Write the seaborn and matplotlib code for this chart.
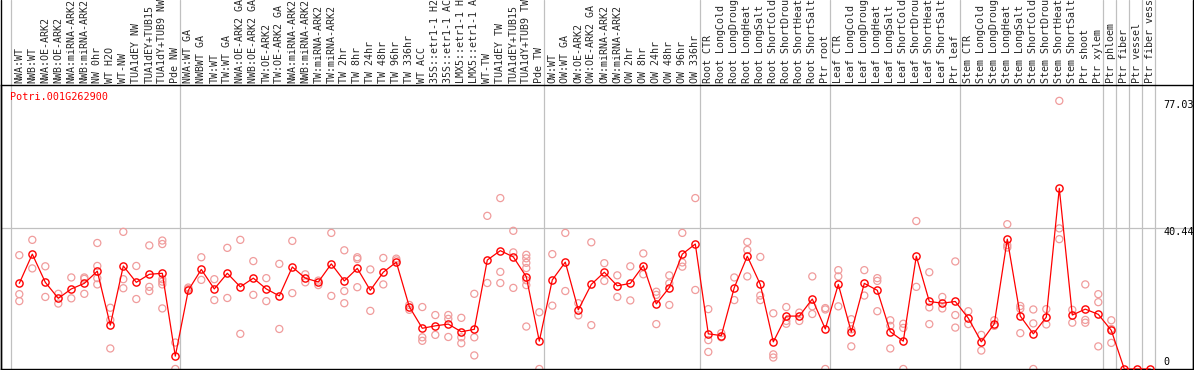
import matplotlib
matplotlib.use('Agg')
import matplotlib.pyplot as plt
from matplotlib.transforms import blended_transform_factory, offset_copy
import seaborn as sns
import pandas as pd

gene = 'Potri.001G262900'

samples = [
    'NWA:WT', 'NWB:WT', 'NWA:OE-ARK2', 'NWB:OE-ARK2', 'NWA:miRNA-ARK2', 'NWB:miRNA-ARK2',
    'NW 0hr', 'WT H2O', 'WT-NW', 'TUA1dEY NW', 'TUA1dEY+TUB15', 'TUA1dY+TUB9 NW', 'Pde NW',
    'NWA:WT GA', 'NWBWT GA', 'TW:WT', 'TW:WT GA', 'NWA:OE-ARK2 GA', 'NWB:OE-ARK2 GA',
    'TW:OE-ARK2', 'TW:OE-ARK2 GA', 'NWA:miRNA-ARK2', 'NWB:miRNA-ARK2', 'TW:miRNA-ARK2',
    'TW:miRNA-ARK2', 'TW 2hr', 'TW 8hr', 'TW 24hr', 'TW 48hr', 'TW 96hr', 'TW 336hr',
    'WT ACC', '35S::etr1-1 H2O', '35S::etr1-1 ACC', 'LMX5::etr1-1 H2O', 'LMX5::etr1-1 ACC',
    'WT-TW', 'TUA1dEY TW', 'TUA1dEY+TUB15', 'TUA1dY+TUB9 TW', 'Pde TW',
    'OW:WT', 'OW:WT GA', 'OW:OE-ARK2', 'OW:OE-ARK2 GA', 'OW:miRNA-ARK2', 'OW:miRNA-ARK2',
    'OW 2hr', 'OW 8hr', 'OW 24hr', 'OW 48hr', 'OW 96hr', 'OW 336hr',
    'Root CTR', 'Root LongCold', 'Root LongDrought', 'Root LongHeat', 'Root LongSalt',
    'Root ShortCold', 'Root ShortDrought', 'Root ShortHeat', 'Root ShortSalt', 'Ptr root',
    'Leaf CTR', 'Leaf LongCold', 'Leaf LongDrought', 'Leaf LongHeat', 'Leaf LongSalt',
    'Leaf ShortCold', 'Leaf ShortDrought', 'Leaf ShortHeat', 'Leaf ShortSalt', 'Ptr leaf',
    'Stem CTR', 'Stem LongCold', 'Stem LongDrought', 'Stem LongHeat', 'Stem LongSalt',
    'Stem ShortCold', 'Stem ShortDrought', 'Stem ShortHeat', 'Stem ShortSalt', 'Ptr shoot',
    'Ptr xylem', 'Ptr phloem', 'Ptr fiber', 'Ptr vessel', 'Ptr fiber vessel',
]

means = [
    24.6, 33.0, 24.9, 20.3, 23.0, 24.6, 28.1, 12.6, 29.6, 24.9, 27.2, 27.5, 3.7,
    22.6, 28.6, 23.0, 27.5, 23.6, 26.1, 23.0, 21.0, 29.3, 26.1, 25.0, 30.2, 25.3, 28.9,
    22.6, 27.8, 30.7, 17.9, 11.7, 12.4, 12.9, 10.7, 11.4, 31.3, 34.0, 32.2, 26.5, 8.0,
    25.6, 30.7, 17.0, 24.3, 27.8, 23.9, 24.6, 29.7, 18.7, 23.4, 33.0, 35.9,
    10.1, 9.6, 23.4, 32.4, 24.3, 7.8, 15.2, 15.2, 20.1, 11.5,
    24.3, 10.6, 24.6, 22.6, 10.7, 8.0, 32.4, 19.4, 18.9, 19.4,
    14.6, 7.8, 13.0, 37.3, 15.2, 10.1, 14.9, 51.9, 15.5, 17.2, 15.7,
    11.1, 0.0, 0.0, 0.0,
]

replicates = [
    [32.7, 21.5, 19.5], [37.1, 28.9], [29.5, 20.7], [21.6, 18.8], [26.3, 20.3],
    [26.3, 25.9, 21.6], [36.2, 29.6, 26.1, 24.3], [17.6, 14.1, 5.9], [39.4, 25.8, 23.2],
    [29.6, 20.1], [35.5, 23.6, 22.4], [36.9, 35.9, 25.8, 25.1, 24.3, 17.4], [7.6, 0.0],
    [23.4, 23.0], [32.1, 25.6], [25.8, 19.8], [34.8, 20.4], [37.1, 10.1], [31.0, 21.3],
    [26.1, 19.5], [30.2, 11.5], [36.8, 21.8], [27.2, 24.9], [25.4, 24.1], [39.1, 21.0],
    [34.1, 22.4, 18.9], [32.1, 31.6, 23.5], [28.6, 16.7], [31.9, 24.3], [31.7, 31.2],
    [18.4, 17.0], [17.8, 9.1, 8.1], [15.5, 9.8], [15.5, 14.4, 9.2], [14.7, 9.1, 7.4],
    [21.6, 9.1, 3.9], [44.0, 24.7], [49.1, 27.9, 24.7], [39.7, 33.5, 23.3],
    [32.8, 31.8, 30.5, 29.0, 25.5, 24.1, 12.2], [16.3, 0.0],
    [33.0, 18.2], [39.1, 22.4], [18.9, 15.4], [36.4, 12.6], [30.4, 25.3], [26.9, 20.7],
    [29.5, 19.7], [33.2, 27.2], [22.2, 21.3, 12.9], [26.9, 24.6, 18.4],
    [39.1, 30.6, 29.4], [49.1, 22.7],
    [17.2, 8.3, 4.9], [10.3, 9.1], [26.3, 19.8], [36.5, 34.2, 26.6], [32.2, 21.1, 19.8],
    [16.0, 4.2, 3.3], [17.8, 13.8, 13.0], [16.2, 13.8], [26.6, 18.0, 15.8],
    [17.5, 17.1, 0.0],
    [28.4, 26.6, 18.0], [14.3, 11.4, 6.5], [28.4, 21.1], [26.1, 25.3, 16.6],
    [14.0, 12.4, 5.9], [13.0, 11.8, 0.0], [42.5, 23.6], [27.8, 17.7, 12.9], [20.7, 17.4],
    [30.9, 15.5, 11.9],
    [16.6, 12.9], [9.8, 5.3], [14.0, 12.4], [41.6, 35.6, 34.9], [18.1, 17.3, 10.3],
    [17.1, 13.1, 0.0], [17.2, 12.8], [77.03, 40.4, 37.3], [17.0, 13.3],
    [24.3, 14.1, 13.3], [21.5, 19.2, 6.5],
    [14.0, 11.5, 7.5], [], [], [],
]

# first sample of each block (and end) -> grey separators
group_starts = [0, 13, 41, 53, 63, 73, 84, 85, 86, 87, 88]
y_marks = [0, 40.44, 77.03]

df_mean = pd.DataFrame({'idx': range(len(samples)), 'value': means})
df_rep = pd.DataFrame(
    [(i, v) for i, reps in enumerate(replicates) for v in reps],
    columns=['idx', 'value'],
)

sns.set_style('white')
plt.rcParams['font.family'] = ['DejaVu Sans Mono', 'DejaVu Sans']

W, H = 1194, 370
fig = plt.figure(figsize=(W / 100, H / 100), dpi=100)
ax = fig.add_axes([1 / W, 1 / H, 1192 / W, (369 - 85.3) / H])

grey = '#c0c0c0'
ax.axhline(40.44, color=grey, linewidth=0.9, zorder=1)
sep_trans = blended_transform_factory(ax.transData, fig.transFigure)
for g in group_starts:
    ax.plot([g - 0.62, g - 0.62], [0, 1], color=grey, linewidth=0.9,
            transform=sep_trans, clip_on=False, zorder=1)

sns.scatterplot(data=df_rep, x='idx', y='value', ax=ax, marker='o', s=26,
                color='#f09c9c', facecolors='none', edgecolor='#f09c9c',
                linewidth=0.9, zorder=2)
sns.lineplot(data=df_mean, x='idx', y='value', ax=ax, color='#ff0000',
             linewidth=0.9, marker='o', markersize=5.2, markerfacecolor='none',
             markeredgecolor='#ff0000', markeredgewidth=1.0, zorder=3)

ax.set_xlim(-1.408, 90.285)
ax.set_ylim(0, 81.5)
ax.set_xlabel('')
ax.set_ylabel('')
ax.set_yticks([])

ax.xaxis.tick_top()
ax.set_xticks(range(len(samples)))
ax.set_xticklabels(samples, rotation=90, fontsize=7.2)
ax.tick_params(axis='x', length=0, pad=1.4)

for sp in ax.spines.values():
    sp.set_color('black')
    sp.set_linewidth(1.0)

ax.text(0.0073, 0.958, gene, transform=ax.transAxes, color='#ff0000',
        fontsize=7.3, ha='left', va='center')

lab_trans = blended_transform_factory(ax.transAxes, ax.transData)
for v in y_marks:
    dy = 7 if v == 0 else -4
    tr = offset_copy(lab_trans, fig=fig, x=0, y=dy, units='dots')
    ax.text(0.975, v, f'{v:g}' if v == 0 else f'{v:.2f}', transform=tr,
            fontsize=7.3, ha='left', va='center', color='black')

# outer border on the left and right of the whole picture
fig.add_artist(plt.Line2D([0.5 / W, 0.5 / W], [0, 1], color='black', linewidth=1.0,
                          transform=fig.transFigure))
fig.add_artist(plt.Line2D([1192.7 / W, 1192.7 / W], [0, 1], color='black', linewidth=1.0,
                          transform=fig.transFigure))

fig.savefig('out.png', dpi=100)
